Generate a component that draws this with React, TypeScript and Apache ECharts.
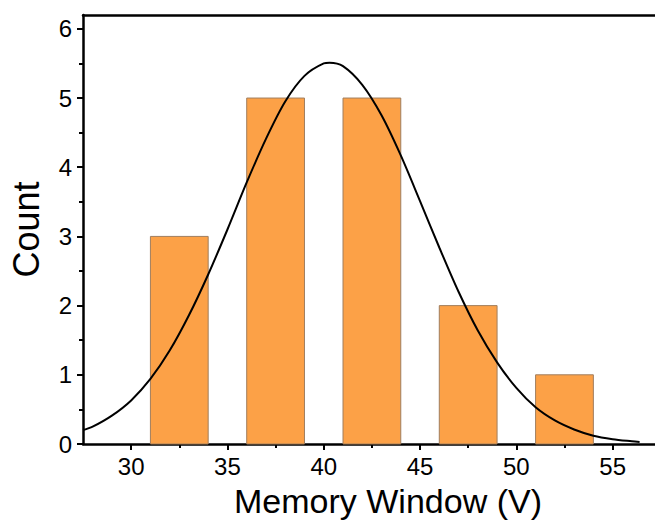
import React, { useEffect, useRef } from "react";
import * as echarts from "echarts";

// Histogram bins (bin centres, V) and counts
const binCenters = [32.5, 37.5, 42.5, 47.5, 52.5];
const counts = [3, 5, 5, 2, 1];
const barHalfWidth = 1.5; // bars drawn 3 V wide inside 5 V bins

// Normal-fit curve, points
const curveX = [27.5, 28, 29, 30, 31, 32, 33, 34, 35, 36, 37, 38, 39, 40, 40.3, 41, 42, 43, 44, 45, 46, 47, 48, 49, 50, 51, 52, 53, 54, 55, 56, 56.4];
const curveY = [0.2, 0.25, 0.41, 0.63, 0.94, 1.35, 1.86, 2.45, 3.1, 3.78, 4.41, 4.95, 5.32, 5.5, 5.51, 5.46, 5.19, 4.75, 4.17, 3.51, 2.84, 2.2, 1.64, 1.18, 0.81, 0.53, 0.34, 0.21, 0.12, 0.07, 0.04, 0.03];

const xMajor = [30, 35, 40, 45, 50, 55];
const xMinor = [32.5, 37.5, 42.5, 47.5, 52.5];
const yMajor = [0, 1, 2, 3, 4, 5, 6];
const yMinor = [0.5, 1.5, 2.5, 3.5, 4.5, 5.5];

const FONT = "'Liberation Sans', Arial, sans-serif";

export default function App() {
  const ref = useRef<HTMLDivElement>(null);
  useEffect(() => {
    if (!ref.current) return;
    const chart = echarts.init(ref.current, undefined, { renderer: "svg" });
    const X_MIN = 27.5;
    const X_MAX = 57.2;
    const Y_MIN = 0;
    const Y_MAX = 6.2;
    const lineStyle = { color: "#000", width: 2.5 };
    const option: any = {
      animation: false,
      backgroundColor: "#fff",
      grid: { left: 83, right: 0, top: 15, bottom: 81, containLabel: false, outerBoundsMode: "none" },
      xAxis: [
        {
          type: "value", position: "bottom", min: X_MIN, max: X_MAX,
          name: "Memory Window (V)", nameLocation: "middle", nameGap: 40,
          nameTextStyle: { fontFamily: FONT, fontSize: 34, color: "#000", padding: [0, 0, 0, 38] },
          axisLine: { show: true, onZero: false, lineStyle },
          axisTick: { show: true, inside: false, length: 6, customValues: xMajor, lineStyle: { color: "#000", width: 2 } },
          axisLabel: { show: true, customValues: xMajor, margin: 10, fontFamily: FONT, fontSize: 24, color: "#000" },
          splitLine: { show: false },
        },
        {
          type: "value", position: "bottom", min: X_MIN, max: X_MAX,
          axisLine: { show: false, onZero: false },
          axisTick: { show: true, inside: false, length: 4, customValues: xMinor, lineStyle: { color: "#000", width: 2 } },
          axisLabel: { show: false },
          splitLine: { show: false },
        },
        {
          type: "value", position: "top", min: X_MIN, max: X_MAX,
          axisLine: { show: true, onZero: false, lineStyle },
          axisTick: { show: false },
          axisLabel: { show: false },
          splitLine: { show: false },
        },
      ],
      yAxis: [
        {
          type: "value", position: "left", min: Y_MIN, max: Y_MAX,
          name: "Count", nameLocation: "middle", nameGap: 39, nameRotate: 90,
          nameTextStyle: { fontFamily: FONT, fontSize: 36, color: "#000" },
          axisLine: { show: true, onZero: false, lineStyle },
          axisTick: { show: true, inside: false, length: 6, customValues: yMajor, lineStyle: { color: "#000", width: 2 } },
          axisLabel: { show: true, customValues: yMajor, margin: 11, fontFamily: FONT, fontSize: 24, color: "#000" },
          splitLine: { show: false },
        },
        {
          type: "value", position: "left", min: Y_MIN, max: Y_MAX,
          axisLine: { show: false, onZero: false },
          axisTick: { show: true, inside: false, length: 4, customValues: yMinor, lineStyle: { color: "#000", width: 2 } },
          axisLabel: { show: false },
          splitLine: { show: false },
        },
      ],
      series: [
        {
          type: "custom",
          xAxisIndex: 0,
          yAxisIndex: 0,
          data: binCenters.map((c, i) => [c, counts[i]]),
          renderItem: (params: any, api: any) => {
            const c = api.value(0);
            const v = api.value(1);
            const p0 = api.coord([c - barHalfWidth, v]);
            const p1 = api.coord([c + barHalfWidth, 0]);
            return {
              type: "rect",
              shape: { x: p0[0], y: p0[1], width: p1[0] - p0[0], height: p1[1] - p0[1] },
              style: { fill: "#FCA147", stroke: "#A07E5E", lineWidth: 1 },
            };
          },
          z: 2,
        },
        {
          type: "line",
          xAxisIndex: 0,
          yAxisIndex: 0,
          data: curveX.map((x, i) => [x, curveY[i]]),
          smooth: 0.3,
          showSymbol: false,
          symbol: "none",
          lineStyle: { color: "#000", width: 2 },
          z: 3,
        },
      ],
    };
    chart.setOption(option);
    return () => chart.dispose();
  }, []);
  return (
    <div
      ref={ref}
      style={{ position: "absolute", left: 0, top: 0, width: 655, height: 525, overflow: "hidden", background: "#fff" }}
    />
  );
}
